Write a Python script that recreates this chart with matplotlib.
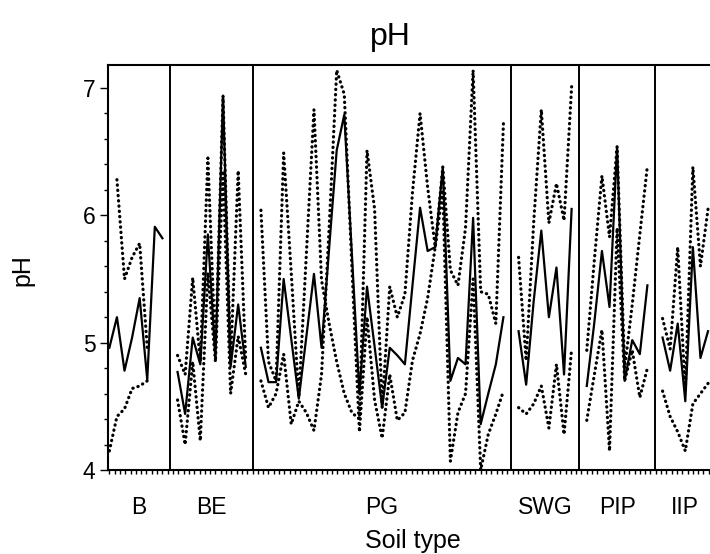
import numpy as np
import matplotlib.pyplot as plt
from matplotlib.ticker import MultipleLocator, FixedLocator

nan = np.nan

plt.rcParams['font.family'] = ['Liberation Sans', 'DejaVu Sans']

soil_types = ['B', 'BE', 'PG', 'SWG', 'PIP', 'IIP']

# pH per site: solid line plus two dotted series
b_solid = [4.96, 5.20, 4.78, 5.04, 5.35, 4.71, 5.91, 5.82]
b_dot1 = [nan, 6.28, 5.50, 5.67, 5.78, 4.96, nan, nan]
b_dot2 = [4.15, 4.42, 4.48, 4.64, 4.66, 4.70, nan, nan]

be_solid = [4.77, 4.44, 5.04, 4.83, 5.85, 4.88, 6.94, 4.81, 5.30, 4.81]
be_dot1 = [4.90, 4.75, 5.51, 4.85, 6.45, 4.92, 6.94, 4.85, 6.35, 4.85]
be_dot2 = [4.55, 4.20, 4.85, 4.23, 5.55, 4.85, 6.35, 4.60, 5.05, 4.75]

pg_solid = [4.96, 4.69, 4.69, 5.50, 5.03, 4.56, 5.05, 5.54, 4.96, 5.74,
            6.51, 6.79, 5.70, 4.60, 5.44, 4.97, 4.49, 4.96, 4.90, 4.83,
            5.45, 6.06, 5.72, 5.75, 6.38, 4.70, 4.88, 4.83, 5.98, 4.36,
            4.60, 4.83, 5.20]
pg_dot1 = [6.04, 4.85, 4.70, 6.49, 5.55, 4.57, 5.70, 6.83, 5.49, 5.15,
           4.85, 4.60, 4.45, 4.40, 6.51, 6.05, 4.49, 5.44, 5.20, 5.38,
           6.18, 6.80, 6.22, 5.75, 6.38, 5.57, 5.45, 5.90, 7.14, 5.40,
           5.38, 5.15, 6.72]
pg_dot2 = [4.70, 4.49, 4.60, 4.91, 4.36, 4.54, 4.45, 4.31, 4.75, 5.90,
           7.14, 6.95, 5.60, 4.30, 5.20, 4.55, 4.25, 4.75, 4.39, 4.45,
           4.86, 5.07, 5.35, 5.75, 6.20, 4.07, 4.45, 4.60, 5.50, 4.00,
           4.28, 4.44, 4.62]

swg_solid = [5.09, 4.67, 5.33, 5.88, 5.20, 5.59, 4.75, 6.05]
swg_dot1 = [5.67, 4.86, 5.95, 6.83, 5.94, 6.25, 5.96, 7.01]
swg_dot2 = [4.49, 4.44, 4.52, 4.66, 4.33, 4.83, 4.28, 4.95]

pip_solid = [4.66, 5.16, 5.72, 5.28, 6.54, 4.70, 5.02, 4.91, 5.45]
pip_dot1 = [4.94, 5.65, 6.31, 5.83, 6.54, 4.80, 5.30, 5.85, 6.39]
pip_dot2 = [4.39, 4.75, 5.10, 4.15, 5.90, 4.70, 4.94, 4.57, 4.80]

iip_solid = [5.04, 4.78, 5.15, 4.54, 5.75, 4.88, 5.09]
iip_dot1 = [5.19, 4.95, 5.75, 4.62, 6.38, 5.60, 6.05]
iip_dot2 = [4.62, 4.42, 4.30, 4.15, 4.52, 4.60, 4.68]

groups = [
    (b_solid, b_dot1, b_dot2),
    (be_solid, be_dot1, be_dot2),
    (pg_solid, pg_dot1, pg_dot2),
    (swg_solid, swg_dot1, swg_dot2),
    (pip_solid, pip_dot1, pip_dot2),
    (iip_solid, iip_dot1, iip_dot2),
]

fig = plt.figure(figsize=(7.1, 5.54), dpi=100)
ax = fig.add_axes([0.1521, 0.1516, 0.859, 0.731])

dots = dict(color='black', lw=2.3, linestyle=(0, (0.1, 1.55)),
            dash_capstyle='round')

start = 0
bounds = []
for solid, dot1, dot2 in groups:
    x = start + np.arange(len(solid))
    ax.plot(x, dot1, **dots)
    ax.plot(x, dot2, **dots)
    ax.plot(x, solid, color='black', lw=1.6)
    end = start + len(solid)
    bounds.append(end)
    start = end + 1

left = -0.18
ax.set_xlim(left, bounds[-1] + 0.3)
ax.set_ylim(4, 7.18)

for b in bounds[:-1]:
    ax.axvline(b, color='black', lw=1.4)

edges = [left] + bounds
centers = [(edges[i] + edges[i + 1]) / 2 for i in range(len(soil_types))]
ax.xaxis.set_major_locator(FixedLocator(centers))
ax.set_xticklabels(soil_types, fontsize=16.5)
ax.xaxis.set_minor_locator(MultipleLocator(0.7))
ax.tick_params(axis='x', which='major', length=0, pad=19)
ax.tick_params(axis='x', which='minor', length=3, width=1)

ax.set_yticks([4, 5, 6, 7])
ax.set_yticklabels(['4', '5', '6', '7'], fontsize=16.5)
ax.yaxis.set_minor_locator(MultipleLocator(0.2))
ax.tick_params(axis='y', which='major', length=6, width=1, pad=3)
ax.tick_params(axis='y', which='minor', length=3, width=1)

for side in ['left', 'top', 'bottom', 'right']:
    ax.spines[side].set_linewidth(1.5)

ax.set_xlabel('Soil type', fontsize=18, labelpad=7)
fig.text(22 / 710, 1 - 270 / 554, 'pH', rotation=90, ha='center',
         va='center', fontsize=18)
fig.text(390 / 710, 1 - 37 / 554, 'pH', ha='center', va='center',
         fontsize=23)

fig.savefig('out.png', dpi=100)
